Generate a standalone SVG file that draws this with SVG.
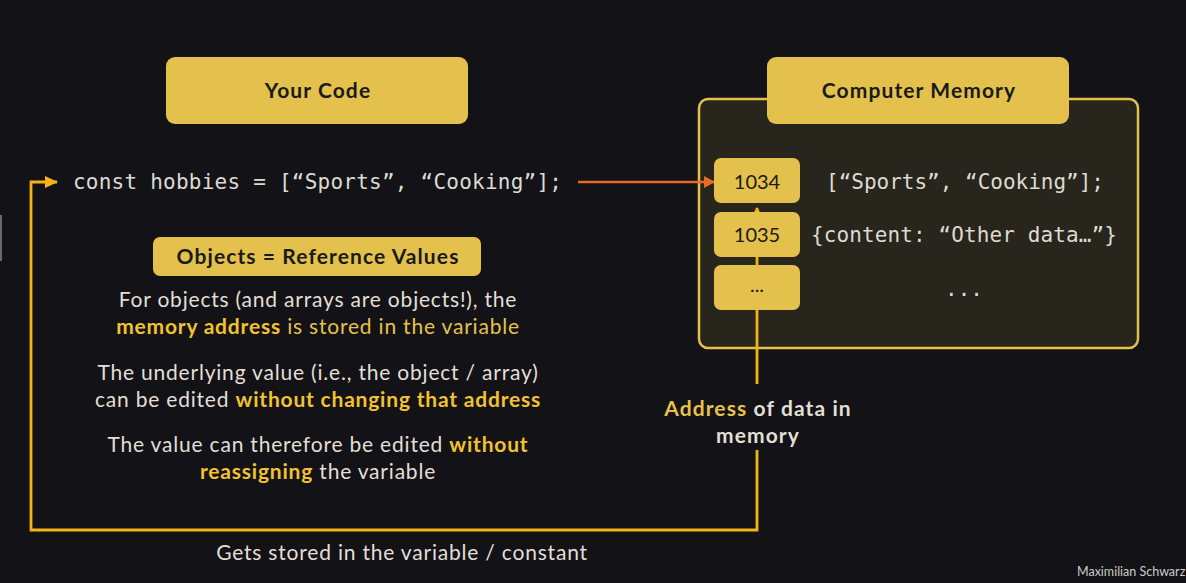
<svg xmlns="http://www.w3.org/2000/svg" width="1186" height="583" viewBox="0 0 1186 583">
<style>
.bg{fill:#131217}
.ybox{fill:#e3c14c}
.title{font-family:Lato,"Noto Sans",sans-serif;font-weight:700;fill:#1a1a1a;text-anchor:middle;letter-spacing:1.1px}
.code{font-family:"DejaVu Sans Mono","Liberation Mono",monospace;fill:#dcdad2}
.body{font-family:Lato,"Noto Sans",sans-serif;font-size:21px;fill:#e2dfd6;text-anchor:middle;letter-spacing:0.8px}
.hl{fill:#f2c230;font-weight:700}
.conn{fill:none;stroke:#f2b418;stroke-width:2.8}
.addr{font-family:Lato,"Noto Sans",sans-serif;font-size:20px;fill:#1c1a14;text-anchor:middle}
</style>
<defs>
<marker id="ah" markerWidth="14" markerHeight="12" refX="12" refY="6" orient="auto" markerUnits="userSpaceOnUse">
<path d="M0,0 L13,6 L0,12 Z" fill="#f2b418"/>
</marker>
<marker id="ahU" markerWidth="8" markerHeight="8" refX="6" refY="4" orient="auto" markerUnits="userSpaceOnUse">
<path d="M0,0 L7,4 L0,8 Z" fill="#f2b418"/>
</marker>
<marker id="ahO" markerWidth="12" markerHeight="12" refX="10" refY="6" orient="auto" markerUnits="userSpaceOnUse">
<path d="M0,0 L11,6 L0,12 Z" fill="#e8692a"/>
</marker>
</defs>
<rect class="bg" x="0" y="0" width="1186" height="583"/>
<rect x="0" y="215" width="2" height="46" fill="#6a6a6e"/>

<g id="memory-box">
<rect x="699" y="99" width="439" height="249" rx="9" fill="#28251c" stroke="#e3c14c" stroke-width="2.5"/>
</g>

<g id="connectors">
<path class="conn" d="M757,384 V208" marker-end="url(#ahU)"/>
<path class="conn" d="M757,450 V530 H31 V182 H57" marker-end="url(#ah)"/>
<line x1="578" y1="182" x2="714" y2="182" stroke="#e8692a" stroke-width="2.5" marker-end="url(#ahO)"/>
</g>

<g id="your-code">
<rect class="ybox" x="166" y="57" width="302" height="67" rx="9"/>
<text class="title" x="318" y="98" font-size="21">Your Code</text>
</g>

<g id="computer-memory">
<rect class="ybox" x="767" y="57" width="302" height="67" rx="9"/>
<text class="title" x="919" y="98" font-size="21">Computer Memory</text>
</g>

<g id="code-line">
<text class="code" x="73" y="189" font-size="21" textLength="489">const hobbies = [“Sports”, “Cooking”];</text>
</g>

<g id="addr-1034">
<rect class="ybox" x="714" y="158" width="86" height="45" rx="7"/>
<text class="addr" x="757" y="189">1034</text>
</g>
<g id="addr-1035">
<rect class="ybox" x="714" y="212" width="86" height="45" rx="7"/>
<text class="addr" x="757" y="242">1035</text>
</g>
<g id="addr-more">
<rect class="ybox" x="714" y="265" width="86" height="45" rx="7"/>
<text class="addr" x="757" y="292" font-size="12">...</text>
</g>

<g id="mem-values">
<text class="code" x="826" y="189" font-size="21" textLength="278">[“Sports”, “Cooking”];</text>
<text class="code" x="811" y="242" font-size="21" textLength="306">{content: “Other data…”}</text>
<text class="code" x="964" y="296" font-size="21" text-anchor="middle">...</text>
</g>

<g id="objects-ref">
<rect class="ybox" x="153" y="237" width="328" height="39" rx="7"/>
<text class="title" x="318" y="264" font-size="21">Objects = Reference Values</text>
</g>

<g id="explanation">
<text class="body" x="318" y="307">For objects (and arrays are objects!), the</text>
<text class="body" x="318" y="334"><tspan class="hl">memory address</tspan><tspan fill="#e6c24a"> is stored in the variable</tspan></text>
<text class="body" x="318" y="380">The underlying value (i.e., the object / array)</text>
<text class="body" x="318" y="407">can be edited <tspan class="hl">without changing that address</tspan></text>
<text class="body" x="318" y="452">The value can therefore be edited <tspan class="hl">without</tspan></text>
<text class="body" x="318" y="479"><tspan class="hl">reassigning</tspan> the variable</text>
</g>

<g id="address-label">
<text class="body" x="758" y="416" font-weight="700" style="letter-spacing:1.1px"><tspan fill="#e6c24a">Address</tspan> of data in</text>
<text class="body" x="758" y="443" font-weight="700" style="letter-spacing:1.1px">memory</text>
</g>

<g id="stored-label">
<text class="body" x="402" y="560">Gets stored in the variable / constant</text>
</g>

<text x="1077" y="576" font-family="Lato,'Noto Sans',sans-serif" font-size="12.5" fill="#cfccc5">Maximilian Schwarz</text>
</svg>
